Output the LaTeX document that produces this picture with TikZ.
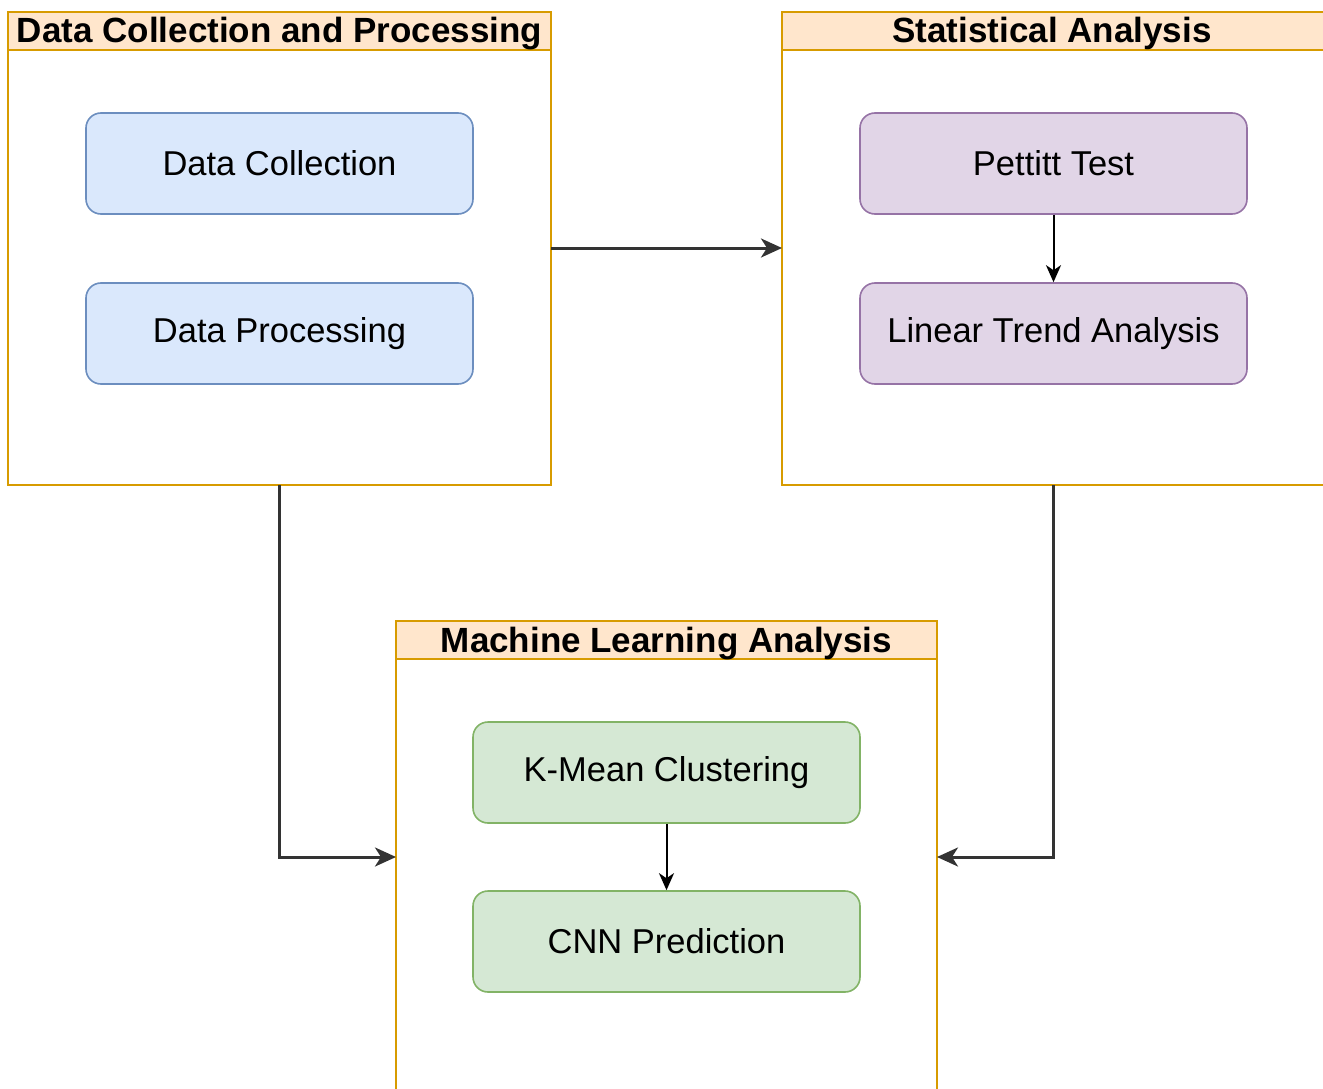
\documentclass[tikz,border=0pt]{standalone}
\usepackage{fontspec}
\setmainfont{Liberation Sans}
\usetikzlibrary{arrows.meta,positioning}

\definecolor{titlefill}{HTML}{FFE6CC}
\definecolor{titleline}{HTML}{D79B00}
\definecolor{bluefill}{HTML}{DAE8FC}
\definecolor{blueline}{HTML}{6C8EBF}
\definecolor{purplefill}{HTML}{E1D5E7}
\definecolor{purpleline}{HTML}{9673A6}
\definecolor{greenfill}{HTML}{D5E8D4}
\definecolor{greenline}{HTML}{82B366}
\definecolor{linkcol}{HTML}{333333}

\tikzset{
  container/.style={draw=titleline, line width=1.8pt, fill=white},
  titlebar/.style={draw=titleline, line width=1.8pt, fill=titlefill},
  titletext/.style={font=\fontsize{35}{40}\selectfont\bfseries, inner sep=0pt, anchor=base},
  stepbox/.style={rounded corners=15pt, line width=1.6pt, minimum width=387pt,
    minimum height=101pt, inner sep=0pt, font=\fontsize{34.5}{40}\selectfont},
  bluebox/.style={stepbox, draw=blueline, fill=bluefill},
  purplebox/.style={stepbox, draw=purpleline, fill=purplefill},
  greenbox/.style={stepbox, draw=greenline, fill=greenfill},
  link/.style={draw=linkcol, line width=3pt, -{Stealth[length=21pt,width=19pt,inset=6pt]}},
  smalllink/.style={draw=black, line width=2pt, -{Stealth[length=17pt,width=15pt,inset=5pt]}},
}

\begin{document}
\begin{tikzpicture}[x=1pt,y=-1pt]
  \useasboundingbox (0,0) rectangle (1323,1089);
  \begin{scope}
    \clip (0,0) rectangle (1323,1089);

    % left container: data collection and processing
    \draw[container] (8,12) rectangle (551,485);
    \draw[titlebar] (8,12) rectangle (551,50);
    \node[titletext] (t1) at (279.5,43) {Data Collection and Processing};
    \coordinate (c1e) at (551,248);
    \coordinate (c1s) at (279,485);

    % right container: statistical analysis
    \draw[container] (782,12) rectangle (1340,485);
    \draw[titlebar] (782,12) rectangle (1340,50);
    \node[titletext] (t2) at (1052,43) {Statistical Analysis};
    \coordinate (c2w) at (782,248);
    \coordinate (c2s) at (1053,485);

    % bottom container: machine learning analysis
    \draw[container] (396,621) rectangle (937,1110);
    \draw[titlebar] (396,621) rectangle (937,659);
    \node[titletext] (t3) at (666.5,652) {Machine Learning Analysis};
    \coordinate (c3w) at (396,857);
    \coordinate (c3e) at (937,857);
  \end{scope}

  % steps
  \node[bluebox] (dc) at (279.5,163.5) {Data Collection};
  \node[bluebox] (dp) at (279.5,333.5) {Data Processing};
  \node[purplebox] (pt) at (1053.5,163.5) {Pettitt Test};
  \node[purplebox] (lt) at (1053.5,333.5) {Linear Trend Analysis};
  \node[greenbox] (km) at (666.5,772.5) {K-Mean Clustering};
  \node[greenbox] (cnn) at (666.5,941.5) {CNN Prediction};

  % connectors
  \draw[link] (c1e) -- (c2w);
  \draw[link] (c1s) |- (c3w);
  \draw[link] (c2s) |- (c3e);
  \draw[smalllink] (pt) -- (lt);
  \draw[smalllink] (km) -- (cnn);
\end{tikzpicture}
\end{document}
